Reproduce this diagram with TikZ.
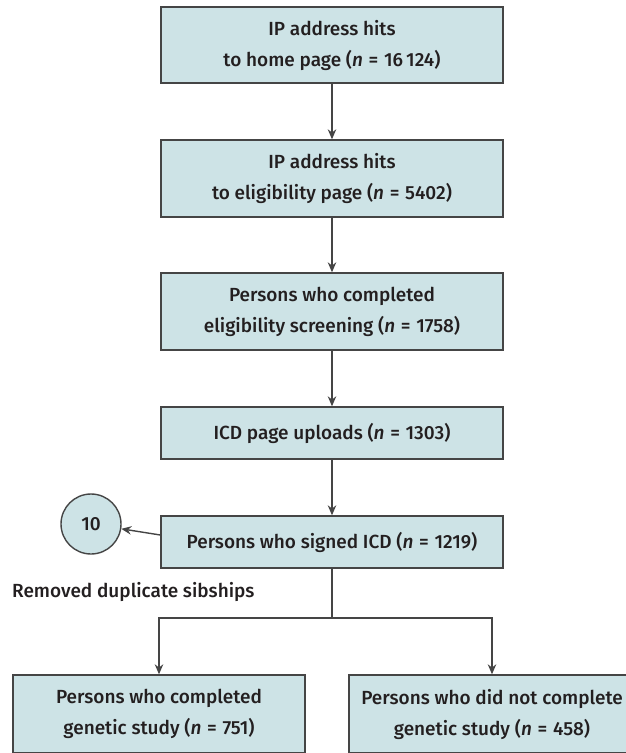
\documentclass[tikz,border=0pt]{standalone}
\usepackage{fontspec}
\setmainfont{Fira Sans Medium}[ItalicFont={Fira Sans Medium Italic}]
\usetikzlibrary{arrows.meta,calc}
\definecolor{boxfill}{HTML}{CDE3E6}
\definecolor{boxline}{HTML}{454545}
\definecolor{txt}{HTML}{231F20}
\newcommand{\eqsp}{\hspace{0.3em}=\hspace{0.3em}}
\begin{document}
\begin{tikzpicture}[x=1pt,y=-1pt,
  every node/.style={text=txt,font=\fontsize{19}{31}\selectfont},
  flowbox/.style={draw=boxline,fill=boxfill,line width=1.4pt,align=center,inner sep=0pt,minimum width=342pt},
  arr/.style={draw=boxline,line width=1.4pt,-{Stealth[length=10pt,width=8.5pt]}},
  ln/.style={draw=boxline,line width=1.4pt}]
\useasboundingbox (0,0) rectangle (626,753);
\node[flowbox,minimum height=76pt] (b1) at (332,45) {IP address hits\\to home page (\textit{n}\eqsp16\,124)};
\node[flowbox,minimum height=77pt] (b2) at (332,178.5) {IP address hits\\to eligibility page (\textit{n}\eqsp5402)};
\node[flowbox,minimum height=77pt] (b3) at (332,311.5) {Persons who completed\\eligibility screening (\textit{n}\eqsp1758)};
\node[flowbox,minimum height=52pt] (b4) at (332,433) {ICD page uploads (\textit{n}\eqsp1303)};
\node[flowbox,minimum height=52pt] (b5) at (332,542) {Persons who signed ICD (\textit{n}\eqsp1219)};
\node[draw=boxline,fill=boxfill,line width=1.4pt,circle,minimum size=60pt,inner sep=0pt] (c) at (91,524) {10};
\node[anchor=west,inner sep=0pt] (rem) at (12,592) {Removed duplicate sibships};
\node[flowbox,minimum width=292pt,minimum height=78pt] (bl) at (159,714) {Persons who completed\\genetic study (\textit{n}\eqsp751)};
\node[flowbox,minimum width=286pt,minimum height=78pt] (br) at (492,714) {Persons who did not complete\\genetic study (\textit{n}\eqsp458)};
\coordinate (split) at (332,618);
\draw[arr] (b1) -- (b2);
\draw[arr] (b2) -- (b3);
\draw[arr] (b3) -- (b4);
\draw[arr] (b4) -- (b5);
\draw[arr] ($(b5.west)+(0,-7)$) -- (c);
\draw[ln] (b5) -- (split);
\draw[arr] (split) -| (bl.north);
\draw[arr] (split) -| (br.north);
\end{tikzpicture}
\end{document}
